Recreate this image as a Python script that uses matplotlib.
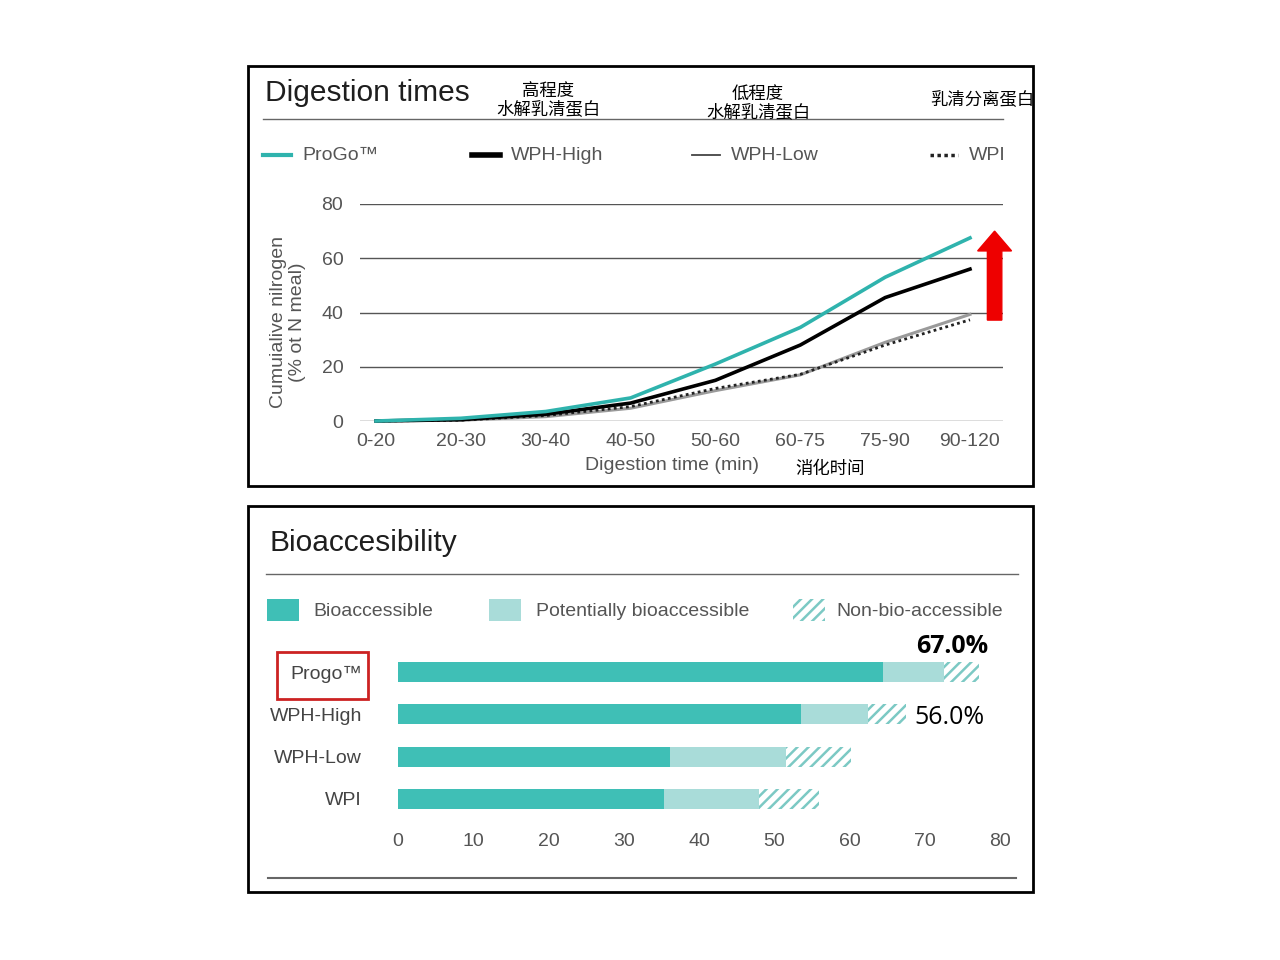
import matplotlib.pyplot as plt
from matplotlib.patches import Rectangle, FancyArrow
from matplotlib.lines import Line2D
import numpy as np

plt.rcParams['font.family'] = ['Liberation Sans', 'Noto Sans CJK SC', 'DejaVu Sans']
plt.rcParams['hatch.linewidth'] = 1.8

# digestion data (% of N meal)
times = ['0-20', '20-30', '30-40', '40-50', '50-60', '60-75', '75-90', '90-120']
progo = [0, 1, 3.5, 8.5, 21, 34.5, 53, 67.5]
wph_high = [0, 0.5, 2.5, 6.6, 15, 28, 45.5, 56]
wph_low = [0, 0.3, 1.6, 4.7, 11.2, 17, 29, 39.3]
wpi = [0, 0.3, 2, 5.3, 12, 17.2, 28, 37.3]

# bioaccessibility data
products = ['Progo™', 'WPH-High', 'WPH-Low', 'WPI']
bioacc = [64.5, 53.6, 36.2, 35.3]
potential = [8.0, 8.8, 15.3, 12.7]
non_bio = [4.7, 5.1, 8.7, 8.0]
pct_labels = ['67.0%', '56.0%']

TEAL = '#2fb3ad'
DARK = '#3fbfb6'
LIGHT = '#a9dcd9'
HATCH = '#7cc9c4'
GREY = '#555555'

W, H = 1280, 960
fig = plt.figure(figsize=(12.8, 9.6), dpi=100)

def fx(px):
    return px / W

def fy(py):
    return 1 - py / H

def box(l, t, r, b):
    return [fx(l), fy(b), fx(r) - fx(l), fy(t) - fy(b)]

# panel frames
for (l, t, r, b) in [(248, 66, 1033, 486), (248, 506, 1033, 892)]:
    fig.add_artist(Rectangle((fx(l), fy(b)), fx(r) - fx(l), fy(t) - fy(b),
                             transform=fig.transFigure, fill=False,
                             edgecolor='black', linewidth=2))

# ---------- top panel ----------
fig.text(fx(265), fy(93), 'Digestion times', fontsize=21.5, color='#1e1e1e',
         va='center', ha='left')
fig.add_artist(Line2D([fx(263), fx(1003)], [fy(119), fy(119)],
                      transform=fig.transFigure, color='#666666', lw=1))
fig.text(fx(548), fy(100), '高程度\n水解乳清蛋白', fontsize=12.5, ha='center',
         va='center', family=['Noto Sans CJK SC'], linespacing=1.0)
fig.text(fx(758), fy(103), '低程度\n水解乳清蛋白', fontsize=12.5, ha='center',
         va='center', family=['Noto Sans CJK SC'], linespacing=1.0)
fig.text(fx(930), fy(99), '乳清分离蛋白', fontsize=12.5, ha='left',
         va='center', family=['Noto Sans CJK SC'])

# legend row
leg = [(263, 'ProGo™', dict(color=TEAL, lw=3, ls='-')),
       (472, 'WPH-High', dict(color='black', lw=4, ls='-')),
       (692, 'WPH-Low', dict(color='#444444', lw=1.3, ls='-')),
       (930, 'WPI', dict(color='#222222', lw=2.5, ls=(0, (1, 1))))]
for x0, name, st in leg:
    fig.add_artist(Line2D([fx(x0), fx(x0 + 28)], [fy(155), fy(155)],
                          transform=fig.transFigure, **st))
    fig.text(fx(x0 + 39), fy(156), name, fontsize=14, color=GREY,
             va='center', ha='left')

ax = fig.add_axes(box(360, 204, 1003, 421))
x = np.arange(len(times))
ax.plot(x, wph_low, color='#9a9a9a', lw=2.2, clip_on=False, zorder=3)
ax.plot(x, wpi, color='#222222', lw=2, ls=(0, (1, 1.2)), clip_on=False, zorder=4)
ax.plot(x, wph_high, color='black', lw=2.6, clip_on=False, zorder=5)
ax.plot(x, progo, color=TEAL, lw=2.6, clip_on=False, zorder=6)
ax.set_xlim(-0.1885, 7.389)
ax.set_ylim(0, 80)
ax.set_yticks([0, 20, 40, 60, 80])
ax.set_xticks(x)
ax.set_xticklabels(times)
ax.grid(axis='y', color='#555555', lw=1)
ax.set_axisbelow(True)
for s in ax.spines.values():
    s.set_visible(False)
ax.tick_params(length=0, labelsize=14, labelcolor=GREY)
ax.tick_params(axis='y', pad=12)
ax.tick_params(axis='x', pad=9)
ax.add_patch(FancyArrow(7.29, 37.2, 0, 25.5, width=0.17, head_width=0.4,
                        head_length=7.3, color='#ee0000', clip_on=False, zorder=7))

fig.text(fx(288), fy(322), 'Cumuialive nilrogen\n(% ot N meal)', rotation=90,
         fontsize=14, color=GREY, ha='center', va='center', linespacing=1.15)
fig.text(fx(672), fy(466), 'Digestion time (min)', fontsize=14, color=GREY,
         ha='center', va='center')
fig.text(fx(830), fy(469), '消化时间', fontsize=12.5, ha='center', va='center',
         family=['Noto Sans CJK SC'])

# ---------- bottom panel ----------
fig.text(fx(269), fy(543), 'Bioaccesibility', fontsize=21.5, color='#1e1e1e',
         va='center', ha='left')
fig.add_artist(Line2D([fx(266), fx(1018)], [fy(574), fy(574)],
                      transform=fig.transFigure, color='#666666', lw=1))
fig.add_artist(Line2D([fx(268), fx(1016)], [fy(878), fy(878)],
                      transform=fig.transFigure, color='#666666', lw=1.5))

leg2 = [(267, 313, 'Bioaccessible', dict(facecolor=DARK, edgecolor='none')),
        (489, 536, 'Potentially bioaccessible', dict(facecolor=LIGHT, edgecolor='none')),
        (793, 836, 'Non-bio-accessible', dict(facecolor='white', edgecolor=HATCH,
                                              hatch='///', linewidth=0))]
for x0, xt, name, st in leg2:
    fig.add_artist(Rectangle((fx(x0), fy(621)), fx(32), fy(0) - fy(22),
                             transform=fig.transFigure, **st))
    fig.text(fx(xt), fy(611), name, fontsize=14, color=GREY, va='center', ha='left')

bx = fig.add_axes(box(398, 650, 1000, 822))
y = np.arange(len(products))
left2 = np.array(bioacc) + np.array(potential)
bx.barh(y, bioacc, height=0.47, color=DARK)
bx.barh(y, potential, left=bioacc, height=0.47, color=LIGHT)
bx.barh(y, non_bio, left=left2, height=0.47, color='white',
        edgecolor=HATCH, hatch='///', linewidth=0)
bx.set_xlim(0, 80)
bx.set_ylim(3.546, -0.52)
bx.set_yticks(y)
bx.set_yticklabels(products)
bx.set_xticks(np.arange(0, 90, 10))
for s in bx.spines.values():
    s.set_visible(False)
bx.tick_params(length=0, labelsize=14, labelcolor='#444444')
bx.tick_params(axis='y', pad=26)
bx.tick_params(axis='x', pad=8, labelcolor=GREY)

tot = left2 + np.array(non_bio)
bx.text(tot[0] + 1.2, -0.6, pct_labels[0], fontsize=18, fontweight='bold',
        ha='right', va='center', family=['Open Sans'])
bx.text(tot[1] + 1.1, 1.07, pct_labels[1], fontsize=18, ha='left', va='center',
        family=['Open Sans'])

fig.add_artist(Rectangle((fx(277), fy(699)), fx(91), fy(0) - fy(47),
                         transform=fig.transFigure, fill=False,
                         edgecolor='#cc2222', linewidth=2))

fig.savefig('out.png', dpi=100, facecolor='white')
